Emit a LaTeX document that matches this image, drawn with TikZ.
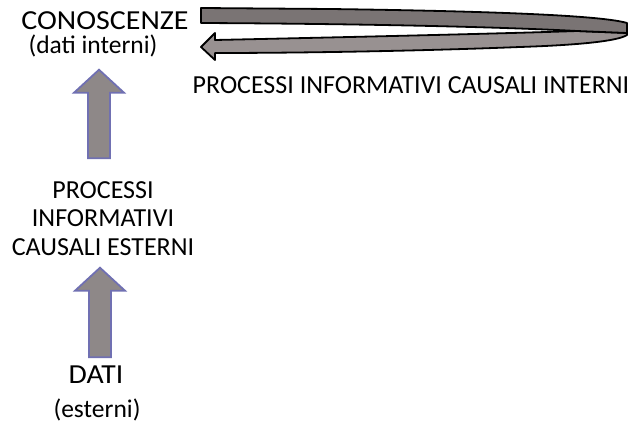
\documentclass[tikz,border=0pt]{standalone}
\usepackage{fontspec}
\setmainfont{Carlito}
\usetikzlibrary{calc}

\definecolor{grigiofreccia}{RGB}{142,136,136}
\definecolor{bordofreccia}{RGB}{112,112,178}
\definecolor{nastroscuro}{RGB}{122,116,116}
\definecolor{nastrochiaro}{RGB}{152,145,145}

% freccia a blocco: #1 base, #2 punta
\newcommand{\frecciablocco}[2]{%
    \draw[freccia] let \p1=#1, \p2=#2 in
        (\x2-11pt,\y1) -- (\x2-11pt,\y2-23pt) -- (\x2-25pt,\y2-23pt) -- (\x2,\y2)
        -- (\x2+25pt,\y2-23pt) -- (\x2+11pt,\y2-23pt) -- (\x2+11pt,\y1) -- cycle;}

\begin{document}
\begin{tikzpicture}[x=1pt,y=-1pt]
    \tikzstyle{titolo}=[anchor=base,inner sep=0pt,font=\fontsize{27.5}{30}\selectfont]
    \tikzstyle{sotto}=[anchor=base,inner sep=0pt,font=\fontsize{25.5}{28}\selectfont]
    \tikzstyle{processo}=[align=center,inner sep=0pt,font=\fontsize{26}{28.5}\selectfont]
    \tikzstyle{freccia}=[fill=grigiofreccia,draw=bordofreccia,line width=1.8pt]
    \tikzstyle{nastro}=[draw=black,line width=1.8pt,line join=round]

    \useasboundingbox (0,0) rectangle (632,422);

    \node[titolo] at (105,30) (conoscenze) {\scalebox{1.09}[1]{CONOSCENZE}};
    \node[sotto] at (93,54) (interni) {(dati interni)};
    \node[processo] at (103,218.5) (esterni) {PROCESSI\\INFORMATIVI\\CAUSALI ESTERNI};
    \node[titolo] at (96,383) (dati) {\scalebox{1.08}[1]{DATI}};
    \node[sotto] at (97,417) (datiesterni) {(esterni)};
    \node[processo] at (411,85.5) (procinterni) {PROCESSI INFORMATIVI CAUSALI INTERNI};

    \frecciablocco{($(esterni.north)+(0,-23)$)}{($(interni.south)+(6,12)$)}
    \frecciablocco{($(dati.north)+(0,-8)$)}{($(esterni.south)+(-3,12)$)}

    \draw[nastro,fill=nastrochiaro] (201,47) -- (215,33) -- (215,40)
        .. controls (400,36) and (520,33) .. (577,31) -- (627,33) -- (627,35)
        .. controls (618,41) and (580,45) .. (520,47)
        .. controls (420,51) and (300,53) .. (215,53) -- (215,60) -- cycle;
    \draw[nastro,fill=nastroscuro] (201,8) -- (330,9)
        .. controls (480,11) and (600,15) .. (627,23) -- (627,33) -- (577,31)
        .. controls (520,28) and (400,24) .. (201,23) -- cycle;
\end{tikzpicture}
\end{document}
